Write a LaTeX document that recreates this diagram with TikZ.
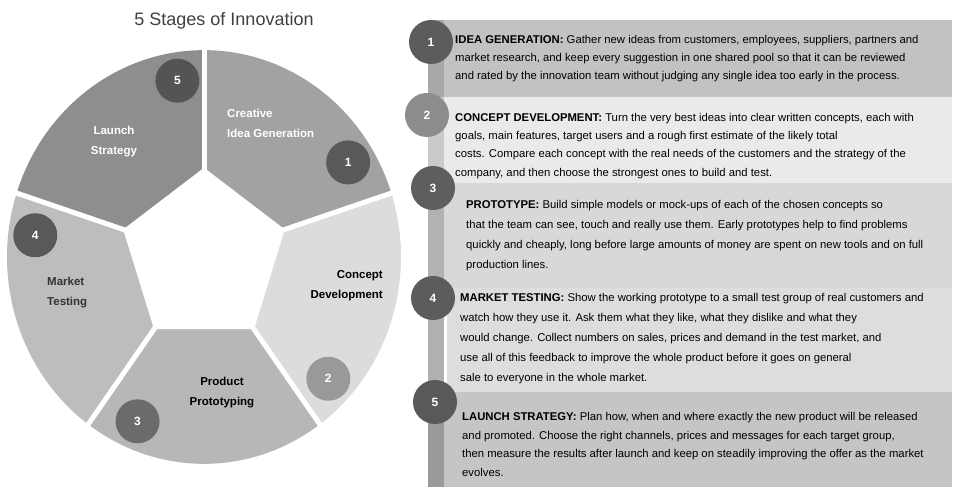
\documentclass[tikz,border=0pt]{standalone}
\usepackage{fontspec}
\setmainfont{Liberation Sans}
\definecolor{sA}{HTML}{A2A2A2}
\definecolor{sB}{HTML}{DCDCDC}
\definecolor{sC}{HTML}{B7B7B7}
\definecolor{sD}{HTML}{BDBDBD}
\definecolor{sE}{HTML}{8E8E8E}
\definecolor{rA}{HTML}{C2C2C2}
\definecolor{rB}{HTML}{EAEAEA}
\definecolor{rC}{HTML}{D8D8D8}
\definecolor{rD}{HTML}{DDDDDD}
\definecolor{rE}{HTML}{C5C5C5}
\definecolor{stA}{HTML}{A8A8A8}
\definecolor{stB}{HTML}{CACACA}
\definecolor{stC}{HTML}{B2B2B2}
\definecolor{stD}{HTML}{B0B0B0}
\definecolor{stE}{HTML}{9A9A9A}
\begin{document}
\begin{tikzpicture}[x=1pt,y=1pt,
  numc/.style={circle, minimum size=44pt, inner sep=0pt, text=white,
    font=\bfseries\fontsize{12}{12}\selectfont},
  seglabel/.style={inner sep=0pt, font=\bfseries\fontsize{11.5}{20}\selectfont},
  rowtext/.style={anchor=north west, inner sep=0pt, align=left, text=black},
]
\useasboundingbox (0,0) rectangle (958,487);

% title
\node[font=\fontsize{18}{18}\selectfont, text=black!75] (title) at (224,466) {5 Stages of Innovation};

% donut
\begin{scope}[shift={(204,230)}, yscale=1.05]
  \fill[sA] (0,0) -- (18:197) arc[start angle=18, end angle=90, radius=197] -- cycle;
  \fill[sB] (0,0) -- (-54:197) arc[start angle=-54, end angle=18, radius=197] -- cycle;
  \fill[sC] (0,0) -- (-126:197) arc[start angle=-126, end angle=-54, radius=197] -- cycle;
  \fill[sD] (0,0) -- (162:197) arc[start angle=162, end angle=234, radius=197] -- cycle;
  \fill[sE] (0,0) -- (90:197) arc[start angle=90, end angle=162, radius=197] -- cycle;
  \fill[white] (90:85) -- (18:85) -- (-54:85) -- (-126:85) -- (162:85) -- cycle;
  \foreach \a in {90,18,-54,-126,162}
    \draw[white, line width=5pt] (0,0) -- (\a:215);
  \node[numc, fill=black!65] (d1) at (32:170) {1};
  \node[numc, fill=black!40] (d2) at (-43:170) {2};
  \node[numc, fill=black!58] (d3) at (-113:170) {3};
  \node[numc, fill=black!65] (d4) at (173:170) {4};
  \node[numc, fill=black!67] (d5) at (99:170) {5};
\end{scope}

% segment labels
\node[seglabel, text=white, align=left, anchor=west] (l1) at (227,364) {Creative\\Idea Generation};
\node[seglabel, text=black, align=right, anchor=east] (l2) at (383,201) {Concept\\Development};
\node[seglabel, text=black, align=center] (l3) at (222,94) {Product\\Prototyping};
\node[seglabel, text=black!80, align=left, anchor=west] (l4) at (47,194) {Market\\Testing};
\node[seglabel, text=white, align=center] (l5) at (114,345) {Launch\\Strategy};

% right panel bands
\fill[rA] (428,390) rectangle (952,467);
\fill[rB] (428,304) rectangle (952,390);
\fill[rC] (428,199) rectangle (952,304);
\fill[rD] (428,95) rectangle (952,199);
\fill[rE] (428,0) rectangle (952,95);
\fill[stA] (428,390) rectangle (444,467);
\fill[stB] (428,304) rectangle (444,390);
\fill[stC] (428,199) rectangle (444,304);
\fill[stD] (428,95) rectangle (444,199);
\fill[stE] (428,0) rectangle (444,95);
\fill[white] (444,95) rectangle (447,199);

% row circles
\node[numc, fill=black!64] (c1) at (431,445) {1};
\node[numc, fill=black!45] (c2) at (427,372) {2};
\node[numc, fill=black!63] (c3) at (433,299) {3};
\node[numc, fill=black!64] (c4) at (433,189) {4};
\node[numc, fill=black!65] (c5) at (435,85) {5};

% row texts
\node[rowtext, font=\fontsize{11.3}{18.3}\selectfont] (t1) at (455,452)
{\textbf{IDEA GENERATION:} Gather new ideas from customers, employees, suppliers, partners and\\
market research, and keep every suggestion in one shared pool so that it can be reviewed\\
and rated by the innovation team without judging any single idea too early in the process.};

\node[rowtext, font=\fontsize{11.3}{18.3}\selectfont] (t2) at (455,374)
{\textbf{CONCEPT DEVELOPMENT:} Turn the very best ideas into clear written concepts, each with\\
goals, main features, target users and a rough first estimate of the likely total\\
costs. Compare each concept with the real needs of the customers and the strategy of the\\
company, and then choose the strongest ones to build and test.};

\node[rowtext, font=\fontsize{11.3}{20}\selectfont] (t3) at (466,287)
{\textbf{PROTOTYPE:} Build simple models or mock-ups of each of the chosen concepts so\\
that the team can see, touch and really use them. Early prototypes help to find problems\\
quickly and cheaply, long before large amounts of money are spent on new tools and on full\\
production lines.};

\node[rowtext, font=\fontsize{11.3}{20}\selectfont] (t4) at (460,194)
{\textbf{MARKET TESTING:} Show the working prototype to a small test group of real customers and\\
watch how they use it. Ask them what they like, what they dislike and what they\\
would change. Collect numbers on sales, prices and demand in the test market, and\\
use all of this feedback to improve the whole product before it goes on general\\
sale to everyone in the whole market.};

\node[rowtext, font=\fontsize{11.3}{18.7}\selectfont] (t5) at (462,75)
{\textbf{LAUNCH STRATEGY:} Plan how, when and where exactly the new product will be released\\
and promoted. Choose the right channels, prices and messages for each target group,\\
then measure the results after launch and keep on steadily improving the offer as the market\\
evolves.};
\end{tikzpicture}
\end{document}
